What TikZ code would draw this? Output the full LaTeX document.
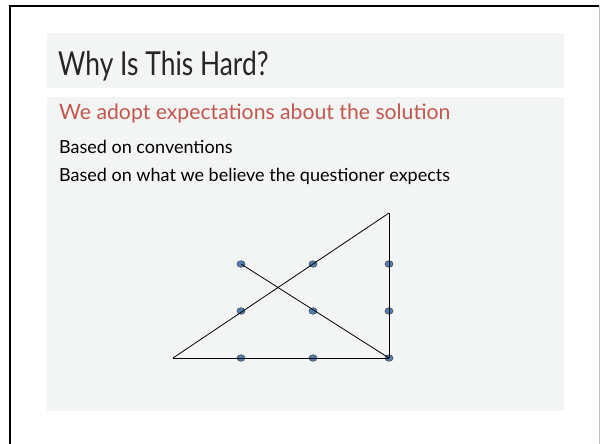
\documentclass[tikz,border=0pt]{standalone}
\usepackage{fontspec}
\setmainfont{Lato}
\usetikzlibrary{shapes.geometric}
\definecolor{boxgray}{RGB}{243,245,244}
\definecolor{red1}{RGB}{196,86,78}
\definecolor{blue1}{RGB}{79,129,189}
\definecolor{gray1}{RGB}{190,190,190}

\begin{document}
\begin{tikzpicture}[x=1pt, y=-1pt,
    dot/.style={ellipse, draw=black!75, fill=blue1, line width=0.6pt,
      inner sep=0pt, minimum width=8pt, minimum height=6.5pt},
    txt/.style={anchor=base west, inner sep=0pt}]
    \useasboundingbox (0,0) rectangle (600,444);
    % Slide frame
    \fill[white] (0,0) rectangle (600,444);
    \draw[line width=2pt] (10,444) -- (10,6) -- (599,6);
    \draw[gray1] (599,6) -- (599,444);
    % Title and body boxes
    \fill[boxgray] (47,33) rectangle (564,88);
    \fill[boxgray] (47,97) rectangle (564,411);
    % Texts
    \node[txt, black!85, font=\fontsize{33}{36}\selectfont] (title) at (58,75) {\scalebox{0.8}[1]{Why Is This Hard?}};
    \node[txt, red1, font=\fontsize{21.2}{25}\selectfont] (point) at (59,120) {We adopt expectations about the solution};
    \node[txt, font=\fontsize{18}{21}\selectfont] (sub1) at (59,153) {Based on conventions};
    \node[txt, font=\fontsize{18}{21}\selectfont] (sub2) at (59,181) {Based on what we believe the questioner expects};
    % Nine dots
    \foreach \x/\c in {241/l,313/m,389/r}{
        \foreach \y/\r in {264/t,311/m,358/b}{
            \node[dot] (\r\c) at (\x,\y) {};
        }
    }
    \coordinate (apex) at (389,213);
    \coordinate (corner) at (173,358);
    % Four straight lines
    \draw[line width=0.8pt] (corner) -- (apex);
    \draw[line width=0.8pt] (apex) -- (br.center);
    \draw[line width=0.8pt] (br.center) -- (corner);
    \draw[line width=0.8pt] (tl.center) -- (br.center);
\end{tikzpicture}
\end{document}
